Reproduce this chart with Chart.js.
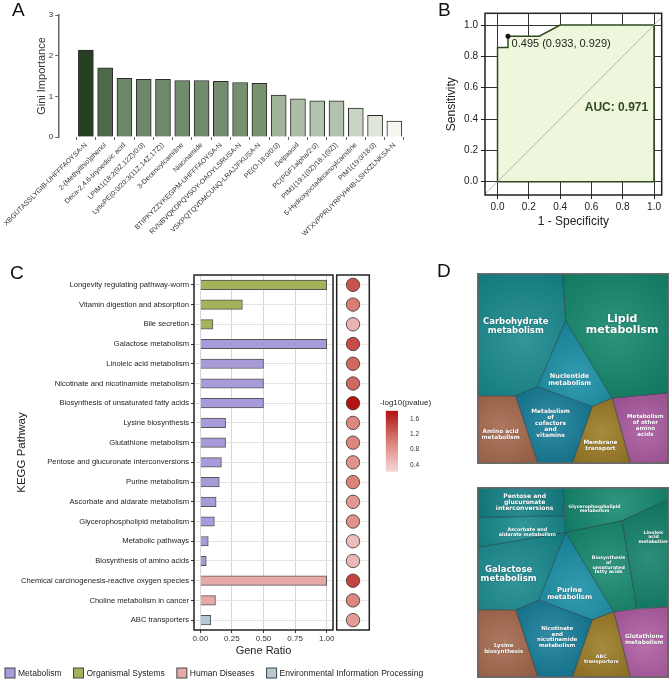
<!DOCTYPE html>
<html>
<head>
<meta charset="utf-8">
<script src="https://cdn.jsdelivr.net/npm/chart.js@4.4.1/dist/chart.umd.min.js"></script>
<style>
body { margin: 0; background: #fff; }
#wrap { position: relative; width: 669px; height: 680px; overflow: hidden; font-family: "Liberation Sans", Arial, sans-serif; }
canvas { position: absolute; }
.tag { position: absolute; font-size: 19px; line-height: 1; color: #111; }
</style>
</head>
<body>
<div id="wrap">
  <canvas id="giniChart" style="left:0;top:0" width="440" height="235"></canvas>
  <canvas id="rocChart" style="left:440px;top:0" width="229" height="235"></canvas>
  <canvas id="keggChart" style="left:0;top:258px" width="445" height="422"></canvas>
  <canvas id="pvalChart" style="left:330px;top:258px" width="50" height="380"></canvas>
  <canvas id="pvalScale" style="left:375px;top:395px" width="60" height="85"></canvas>
  <canvas id="mapTop" style="left:477px;top:273px" width="192" height="191"></canvas>
  <canvas id="mapBottom" style="left:477px;top:487px" width="192" height="191"></canvas>
  <div class="tag" style="left:12px;top:0">A</div>
  <div class="tag" style="left:438px;top:0">B</div>
  <div class="tag" style="left:10px;top:263px">C</div>
  <div class="tag" style="left:437px;top:261px">D</div>
</div>
<script>
// ---- A: Gini importance
const giniLabels = ['XBGUTASSLYGIB-UHFFFAOYSA-N', '2-(Methylthio)phenol', 'Deca-2,4,6-triynedioic acid',
  'LPIM1(18:2(9Z,12Z)/0:0)', 'LysoPE(0:0/20:3(11Z,14Z,17Z))', '3-Decenoylcarnitine', 'Niacinamide',
  'BTIPKYZZYKEGPM-UHFFFAOYSA-N', 'RVNBVQKDPQVSOY-OAOYLSRUSA-N', 'VSKPQTQVDMCUNQ-LRAJJFKUSA-N',
  'PE(O-18:0/0:0)', 'Delpasoid', 'PC(PGF1alpha/2:0)', 'PIM1(19:1(9Z)/18:1(9Z))',
  '5-Hydroxyoctadecanoylcarnitine', 'PIM1(19:0/18:0)', 'WTXVPPRUYRPVHHB-LSHXZLNKSA-N'];
const giniValues = [2.14, 1.70, 1.44, 1.42, 1.42, 1.39, 1.39, 1.37, 1.34, 1.32, 1.03, 0.94, 0.89, 0.89, 0.71, 0.53, 0.39];
const giniColors = ['#263f22', '#4f6a49', '#6c8767', '#6e8969', '#6e8969', '#718c6c', '#718c6c', '#738e6e', '#76906f',
  '#789271', '#a1b39b', '#adbea7', '#b3c2ad', '#b3c2ad', '#c9d4c2', '#e0e7da', '#f3f7ed'];

// ---- B: ROC
const rocFpr = [0, 0, 0.067, 0.067, 0.267, 0.4, 1, 1, 0];
const rocTpr = [0, 0.857, 0.857, 0.929, 0.929, 1, 1, 0, 0];
const cutoff = [0.495, 0.933, 0.929]; // threshold, specificity, sensitivity
const aucValue = 0.971;
const rocTicks = [0, 0.2, 0.4, 0.6, 0.8, 1.0];

// ---- C: KEGG enrichment
const pathways = ['Longevity regulating pathway-worm', 'Vitamin digestion and absorption', 'Bile secretion',
  'Galactose metabolism', 'Linoleic acid metabolism', 'Nicotinate and nicotinamide metabolism',
  'Biosynthesis of unsaturated fatty acids', 'Lysine biosynthesis', 'Glutathione metabolism',
  'Pentose and glucuronate interconversions', 'Purine metabolism', 'Ascorbate and aldarate metabolism',
  'Glycerophospholipid metabolism', 'Metabolic pathways', 'Biosynthesis of amino acids',
  'Chemical carcinogenesis-reactive oxygen species', 'Choline metabolism in cancer', 'ABC transporters'];
const geneRatio = [1.0, 0.333, 0.1, 1.0, 0.5, 0.5, 0.5, 0.2, 0.2, 0.167, 0.15, 0.125, 0.111, 0.063, 0.047, 1.0, 0.12, 0.083];
const pathwayClass = [1, 1, 1, 0, 0, 0, 0, 0, 0, 0, 0, 0, 0, 0, 0, 2, 2, 3];
const negLogP = [1.35, 1.05, 0.55, 1.4, 1.2, 1.2, 1.8, 0.95, 0.95, 0.85, 1.0, 0.8, 0.85, 0.45, 0.5, 1.45, 0.95, 0.75];
const classNames = ['Metabolism', 'Organismal Systems', 'Human Diseases', 'Environmental Information Processing'];
const classColors = ['#a99bd9', '#a2b35c', '#e8a8a8', '#b6c8d4'];
const ratioTicks = [0, 0.25, 0.5, 0.75, 1.0];
const pRange = [0.22, 1.82];
const pTicks = [0.4, 0.8, 1.2, 1.6];

// ---- D: voronoi treemaps (cell outlines in 0-100 units)
const topNames = ['Carbohydrate\nmetabolism', 'Lipid\nmetabolism', 'Nucleotide\nmetabolism',
  'Metabolism\nof\ncofactors\nand\nvitamins', 'Amino acid\nmetabolism', 'Membrane\ntransport',
  'Metabolism\nof other\namino\nacids'];
const topCells = [
  [[0, 0], [44.5, 0], [46.1, 24.6], [31.3, 59.5], [19.9, 64.4], [0, 64.4]],
  [[44.5, 0], [100, 0], [100, 62.8], [70.5, 65.6], [46.1, 24.6]],
  [[46.1, 24.6], [70.5, 65.6], [60.1, 70.0], [31.3, 59.5]],
  [[31.3, 59.5], [60.1, 70.0], [49.6, 100], [31.6, 100], [19.9, 64.4]],
  [[0, 64.4], [19.9, 64.4], [31.6, 100], [0, 100]],
  [[60.1, 70.0], [70.5, 65.6], [80.1, 100], [49.6, 100]],
  [[70.5, 65.6], [100, 62.8], [100, 100], [80.1, 100]]
];
const bottomNames = ['Pentose and\nglucuronate\ninterconversions', 'Ascorbate and\naldarate metabolism',
  'Galactose\nmetabolism', 'Glycerophospholipid\nmetabolism', 'Linoleic\nacid\nmetabolism',
  'Biosynthesis\nof\nunsaturated\nfatty acids', 'Purine\nmetabolism', 'Lysine\nbiosynthesis',
  'Nicotinate\nand\nnicotinamide\nmetabolism', 'ABC\ntransporters', 'Glutathione\nmetabolism'];
const bottomCells = [
  [[0, 0], [44.9, 0], [45.5, 14.7], [0, 15.7]],
  [[0, 15.7], [45.5, 14.7], [46.1, 23.4], [0, 31.4]],
  [[0, 31.4], [46.1, 23.4], [32.1, 59.2], [19.9, 64.4], [0, 64.4]],
  [[44.9, 0], [100, 0], [100, 6], [75.8, 17.3], [46.1, 23.4]],
  [[100, 6], [100, 62.7], [83.6, 63.9], [75.8, 17.3]],
  [[75.8, 17.3], [83.6, 63.9], [71.4, 65.3], [46.1, 23.4]],
  [[46.1, 23.4], [71.4, 65.3], [60.1, 69.6], [32.1, 59.2]],
  [[0, 64.4], [19.9, 64.4], [31.6, 100], [0, 100]],
  [[19.9, 64.4], [32.1, 59.2], [60.1, 69.6], [49.6, 100], [31.6, 100]],
  [[60.1, 69.6], [71.4, 65.3], [80.1, 100], [49.6, 100]],
  [[71.4, 65.3], [100, 62.7], [100, 100], [80.1, 100]]
];

// styles / label placement for D
const topColors = ['#15878b', '#12876b', '#178ea6', '#167e9b', '#a4664a', '#9a7a22', '#a9579e'];
const topLabelAt = [[19.9, 27.7], [75.8, 26.7], [48.2, 55.9], [38.2, 78.9], [12, 85], [64.4, 90.6], [88, 80.1]];
const topLabelSize = [8.5, 11, 6.5, 5.9, 5.8, 5.7, 5.6];
const bottomColors = ['#138186', '#178a8c', '#15878b', '#13896e', '#108069', '#14896c', '#178ea6', '#a4664a', '#167e9b', '#9a7a22', '#b05ca3'];
const bottomLabelAt = [[24.6, 7.7], [26, 23.6], [16.2, 45.5], [61.3, 11.1], [92.3, 26], [68.7, 40.8], [48.2, 55.7], [13.6, 85], [41.7, 78.8], [64.9, 90.5], [87.4, 80]];
const bottomLabelSize = [6.1, 4.9, 8.5, 4.5, 4.6, 4.7, 6.8, 5.5, 5.5, 4.9, 5.8];

Chart.defaults.font.family = '"Liberation Sans", Arial, sans-serif';
Chart.defaults.color = '#222';
Chart.defaults.animation = false;
Chart.defaults.responsive = false;
Chart.defaults.plugins.legend.display = false;
Chart.defaults.plugins.tooltip.enabled = false;

const fixTicks = list => s => { s.ticks = list.map(v => ({ value: v })); };
const frame = (color, width) => ({
  id: 'frame',
  afterDatasetsDraw(chart) {
    const { ctx, chartArea: a } = chart;
    ctx.save();
    ctx.strokeStyle = color;
    ctx.lineWidth = width;
    ctx.strokeRect(a.left, a.top, a.width, a.height);
    ctx.restore();
  }
});

// A
new Chart(document.getElementById('giniChart'), {
  type: 'bar',
  data: {
    datasets: [{
      data: giniValues.map((v, i) => ({ x: i, y: v })),
      backgroundColor: giniColors,
      borderColor: '#2b2b2b',
      borderWidth: 1,
      barThickness: 15
    }]
  },
  options: {
    layout: { autoPadding: false, padding: { left: 33, top: 15, right: 19, bottom: 0 } },
    scales: {
      x: {
        type: 'linear', min: -0.83, max: 16.83,
        afterBuildTicks: fixTicks(giniLabels.map((_, i) => i)),
        afterFit: s => { s.height = 98; },
        ticks: { callback: v => giniLabels[v], minRotation: 45, maxRotation: 45, autoSkip: false, font: { size: 7 }, color: '#333', padding: 1 },
        grid: { drawOnChartArea: false, tickLength: 3, color: '#666' },
        border: { display: false }
      },
      y: {
        min: 0, max: 3,
        afterBuildTicks: fixTicks([0, 1, 2, 3]),
        afterFit: s => { s.width = 24; },
        ticks: { font: { size: 8 }, color: '#333', padding: 2 },
        grid: { drawOnChartArea: false, tickLength: 4, color: '#666' },
        border: { color: '#666', width: 1.5 },
        title: { display: true, text: 'Gini Importance', font: { size: 11 }, color: '#333', padding: 0 }
      }
    }
  }
});

// B
const rocText = {
  id: 'rocText',
  afterDatasetsDraw(chart) {
    const { ctx, scales: { x, y } } = chart;
    ctx.save();
    ctx.textBaseline = 'middle';
    ctx.fillStyle = '#222';
    ctx.font = '11px "Liberation Sans", Arial';
    ctx.textAlign = 'left';
    ctx.fillText(`${cutoff[0]} (${cutoff[1]}, ${cutoff[2]})`, x.getPixelForValue(0.09), y.getPixelForValue(0.877));
    ctx.fillStyle = '#2f4a1f';
    ctx.font = 'bold 12px "Liberation Sans", Arial';
    ctx.textAlign = 'center';
    ctx.fillText('AUC: ' + aucValue.toFixed(3), x.getPixelForValue(0.76), y.getPixelForValue(0.47));
    ctx.restore();
  }
};
const rocAxis = {
  afterBuildTicks: fixTicks(rocTicks),
  ticks: { callback: v => v.toFixed(1), font: { size: 10 }, color: '#222' },
  grid: { color: '#333', borderDash: [1.5, 3], tickBorderDash: [10, 0], tickColor: '#222', tickLength: 4, lineWidth: 1 },
  border: { display: false }
};
new Chart(document.getElementById('rocChart'), {
  type: 'scatter',
  data: {
    datasets: [
      { data: [{ x: -0.2, y: -0.2 }, { x: 1.2, y: 1.2 }], showLine: true, borderColor: '#aaa', borderWidth: 0.8, pointRadius: 0 },
      { data: [{ x: 1 - cutoff[1], y: cutoff[2] }], pointRadius: 2.5, backgroundColor: '#111', borderWidth: 0 },
      {
        data: rocFpr.map((x, i) => ({ x, y: rocTpr[i] })), showLine: true, fill: 'shape',
        backgroundColor: '#eef6dc', borderColor: '#2f4a1f', borderWidth: 1.5, pointRadius: 0, tension: 0
      }
    ]
  },
  options: {
    layout: { autoPadding: false, padding: { left: 0, top: 13.3, right: 7.3, bottom: 0 } },
    scales: {
      x: Object.assign({}, rocAxis, {
        min: -0.08, max: 1.049,
        afterFit: s => { s.height = 40; },
        ticks: Object.assign({}, rocAxis.ticks, { padding: 2 }),
        title: { display: true, text: '1 - Specificity', font: { size: 12 }, color: '#222', padding: { top: 0, bottom: 6 } }
      }),
      y: Object.assign({}, rocAxis, {
        min: -0.085, max: 1.075,
        afterFit: s => { s.width = 45; },
        ticks: Object.assign({}, rocAxis.ticks, { padding: 3 }),
        title: { display: true, text: 'Sensitivity', font: { size: 12 }, color: '#222', padding: { top: 4, bottom: 0 } }
      })
    }
  },
  plugins: [rocText, frame('#222', 1.5)]
});

// C
const lowP = [245, 214, 218], midP = [218, 128, 118], highP = [178, 16, 16];
function pColor(v) {
  let t = Math.min(1, Math.max(0, (v - pRange[0]) / (pRange[1] - pRange[0])));
  let a = lowP, b = midP;
  if (t > 0.5) { a = midP; b = highP; t = (t - 0.5) * 2; } else { t = t * 2; }
  const c = a.map((x, k) => Math.round(x + (b[k] - x) * t));
  return `rgb(${c[0]},${c[1]},${c[2]})`;
}

const classLegend = {
  id: 'classLegend',
  afterDraw(chart) {
    const { ctx } = chart;
    ctx.save();
    ctx.font = '8.5px "Liberation Sans", Arial';
    ctx.textBaseline = 'middle';
    let x = 5;
    const y = 415;
    classNames.forEach((n, i) => {
      ctx.fillStyle = classColors[i];
      ctx.fillRect(x, y - 5, 10, 10);
      ctx.strokeStyle = '#444';
      ctx.lineWidth = 1;
      ctx.strokeRect(x, y - 5, 10, 10);
      ctx.fillStyle = '#222';
      ctx.fillText(n, x + 13, y + 0.5);
      x += 13 + ctx.measureText(n).width + 12;
    });
    ctx.restore();
  }
};

new Chart(document.getElementById('keggChart'), {
  type: 'bar',
  data: {
    labels: pathways,
    datasets: [{
      data: geneRatio,
      backgroundColor: pathwayClass.map(c => classColors[c]),
      borderColor: '#555',
      borderWidth: 1,
      barThickness: 9.5
    }]
  },
  options: {
    indexAxis: 'y',
    layout: { autoPadding: false, padding: { left: 15, top: 17, right: 112, bottom: 20 } },
    scales: {
      x: {
        min: -0.05, max: 1.05,
        afterBuildTicks: fixTicks(ratioTicks),
        afterFit: s => { s.height = 30; },
        ticks: { callback: v => v.toFixed(2), font: { size: 8 }, color: '#333', padding: 1 },
        grid: { color: '#d6d6d6', borderDash: [2, 2], tickBorderDash: [10, 0], tickColor: '#333', tickLength: 3 },
        border: { display: false },
        title: { display: true, text: 'Gene Ratio', font: { size: 11 }, color: '#222', padding: { top: 0, bottom: 2 } }
      },
      y: {
        offset: true,
        afterFit: s => { s.width = 179; },
        ticks: { font: { size: 7.6 }, color: '#222', padding: 2, autoSkip: false },
        grid: { offset: false, color: '#e4e4e4', borderDash: [2, 2], tickBorderDash: [10, 0], tickColor: '#333', tickLength: 3 },
        border: { display: false },
        title: { display: true, text: 'KEGG Pathway', font: { size: 11.5 }, color: '#222', padding: 0 }
      }
    }
  },
  plugins: [frame('#222', 1.5), classLegend]
});

new Chart(document.getElementById('pvalChart'), {
  type: 'scatter',
  data: {
    datasets: [{
      data: pathways.map(p => ({ x: 0, y: p })),
      pointRadius: 6.7,
      backgroundColor: negLogP.map(pColor),
      borderColor: '#333',
      borderWidth: 0.8
    }]
  },
  options: {
    layout: { autoPadding: false, padding: { left: 6.7, top: 17, right: 10.7, bottom: 8 } },
    scales: {
      x: { display: false, min: -1, max: 1 },
      y: {
        type: 'category', labels: pathways, offset: true,
        afterFit: s => { s.width = 0; },
        ticks: { display: false },
        grid: { offset: false, color: '#ececec', drawTicks: false },
        border: { display: false }
      }
    }
  },
  plugins: [frame('#222', 1.5)]
});

const scaleTitle = {
  id: 'scaleTitle',
  afterDraw(chart) {
    const { ctx } = chart;
    ctx.save();
    ctx.font = '8px "Liberation Sans", Arial';
    ctx.fillStyle = '#222';
    ctx.textBaseline = 'middle';
    ctx.fillText('-log10(pvalue)', 5, 8);
    ctx.restore();
  }
};
new Chart(document.getElementById('pvalScale'), {
  type: 'bar',
  data: {
    labels: [''],
    datasets: [{
      data: [pRange],
      borderWidth: 0,
      categoryPercentage: 1,
      barPercentage: 1,
      backgroundColor: ctx => {
        const { chart } = ctx;
        const a = chart.chartArea;
        if (!a) return pColor(1);
        const y = chart.scales.y;
        const g = chart.ctx.createLinearGradient(0, y.getPixelForValue(pRange[0]), 0, y.getPixelForValue(pRange[1]));
        for (let k = 0; k <= 10; k++) g.addColorStop(k / 10, pColor(pRange[0] + (pRange[1] - pRange[0]) * k / 10));
        return g;
      }
    }]
  },
  options: {
    layout: { autoPadding: false, padding: { left: 10.7, top: 15.7, right: 0, bottom: 8.3 } },
    scales: {
      x: { display: false },
      y: {
        position: 'right', min: pRange[0], max: pRange[1],
        afterBuildTicks: fixTicks(pTicks),
        afterFit: s => { s.width = 37; },
        ticks: { callback: v => v.toFixed(1), font: { size: 6.5 }, color: '#333', padding: 4 },
        grid: { display: false },
        border: { display: false }
      }
    }
  },
  plugins: [scaleTitle]
});

// D
function mix(hex, w, amt) {
  const n = parseInt(hex.slice(1), 16);
  const c = [n >> 16, (n >> 8) & 255, n & 255].map(v => Math.round(v + (w - v) * amt));
  return `rgb(${c[0]},${c[1]},${c[2]})`;
}
function cellFill(cells, colors) {
  return ctx => {
    const i = ctx.datasetIndex;
    const chart = ctx.chart;
    if (!chart.chartArea) return colors[i];
    const { x, y } = chart.scales;
    const pts = cells[i].map(p => [x.getPixelForValue(p[0]), y.getPixelForValue(p[1])]);
    const cx = pts.reduce((s, p) => s + p[0], 0) / pts.length;
    const cy = pts.reduce((s, p) => s + p[1], 0) / pts.length;
    const r = Math.max(...pts.map(p => Math.hypot(p[0] - cx, p[1] - cy)));
    const g = chart.ctx.createRadialGradient(cx, cy, 0, cx, cy, r);
    g.addColorStop(0, mix(colors[i], 255, 0.12));
    g.addColorStop(1, mix(colors[i], 0, 0.12));
    return g;
  };
}
const cellLabels = (names, at, sizes) => ({
  id: 'cellLabels',
  afterDatasetsDraw(chart) {
    const { ctx, scales: { x, y } } = chart;
    ctx.save();
    ctx.fillStyle = '#fff';
    ctx.textAlign = 'center';
    ctx.textBaseline = 'middle';
    ctx.shadowColor = 'rgba(0,0,0,0.35)';
    ctx.shadowBlur = 1.5;
    names.forEach((n, i) => {
      const s = sizes[i];
      const lines = n.split('\n');
      const lh = s * 1.02;
      ctx.font = `bold ${s}px "DejaVu Sans", sans-serif`;
      const cx = x.getPixelForValue(at[i][0]);
      const cy = y.getPixelForValue(at[i][1]) - (lines.length - 1) * lh / 2;
      lines.forEach((l, k) => ctx.fillText(l, cx, cy + k * lh));
    });
    ctx.restore();
  }
});
function treemap(id, names, cells, colors, at, sizes) {
  new Chart(document.getElementById(id), {
    type: 'scatter',
    data: {
      datasets: cells.map(c => ({
        data: c.concat([c[0]]).map(p => ({ x: p[0], y: p[1] })),
        showLine: true,
        fill: 'shape',
        backgroundColor: cellFill(cells, colors),
        borderColor: 'rgba(25,45,55,0.55)',
        borderWidth: 0.8,
        pointRadius: 0,
        tension: 0
      }))
    },
    options: {
      layout: { autoPadding: false, padding: 0.8 },
      scales: {
        x: { display: false, min: 0, max: 100 },
        y: { display: false, min: 0, max: 100, reverse: true }
      }
    },
    plugins: [cellLabels(names, at, sizes), frame('#6b6b6b', 1.6)]
  });
}
treemap('mapTop', topNames, topCells, topColors, topLabelAt, topLabelSize);
treemap('mapBottom', bottomNames, bottomCells, bottomColors, bottomLabelAt, bottomLabelSize);
</script>
</body>
</html>
